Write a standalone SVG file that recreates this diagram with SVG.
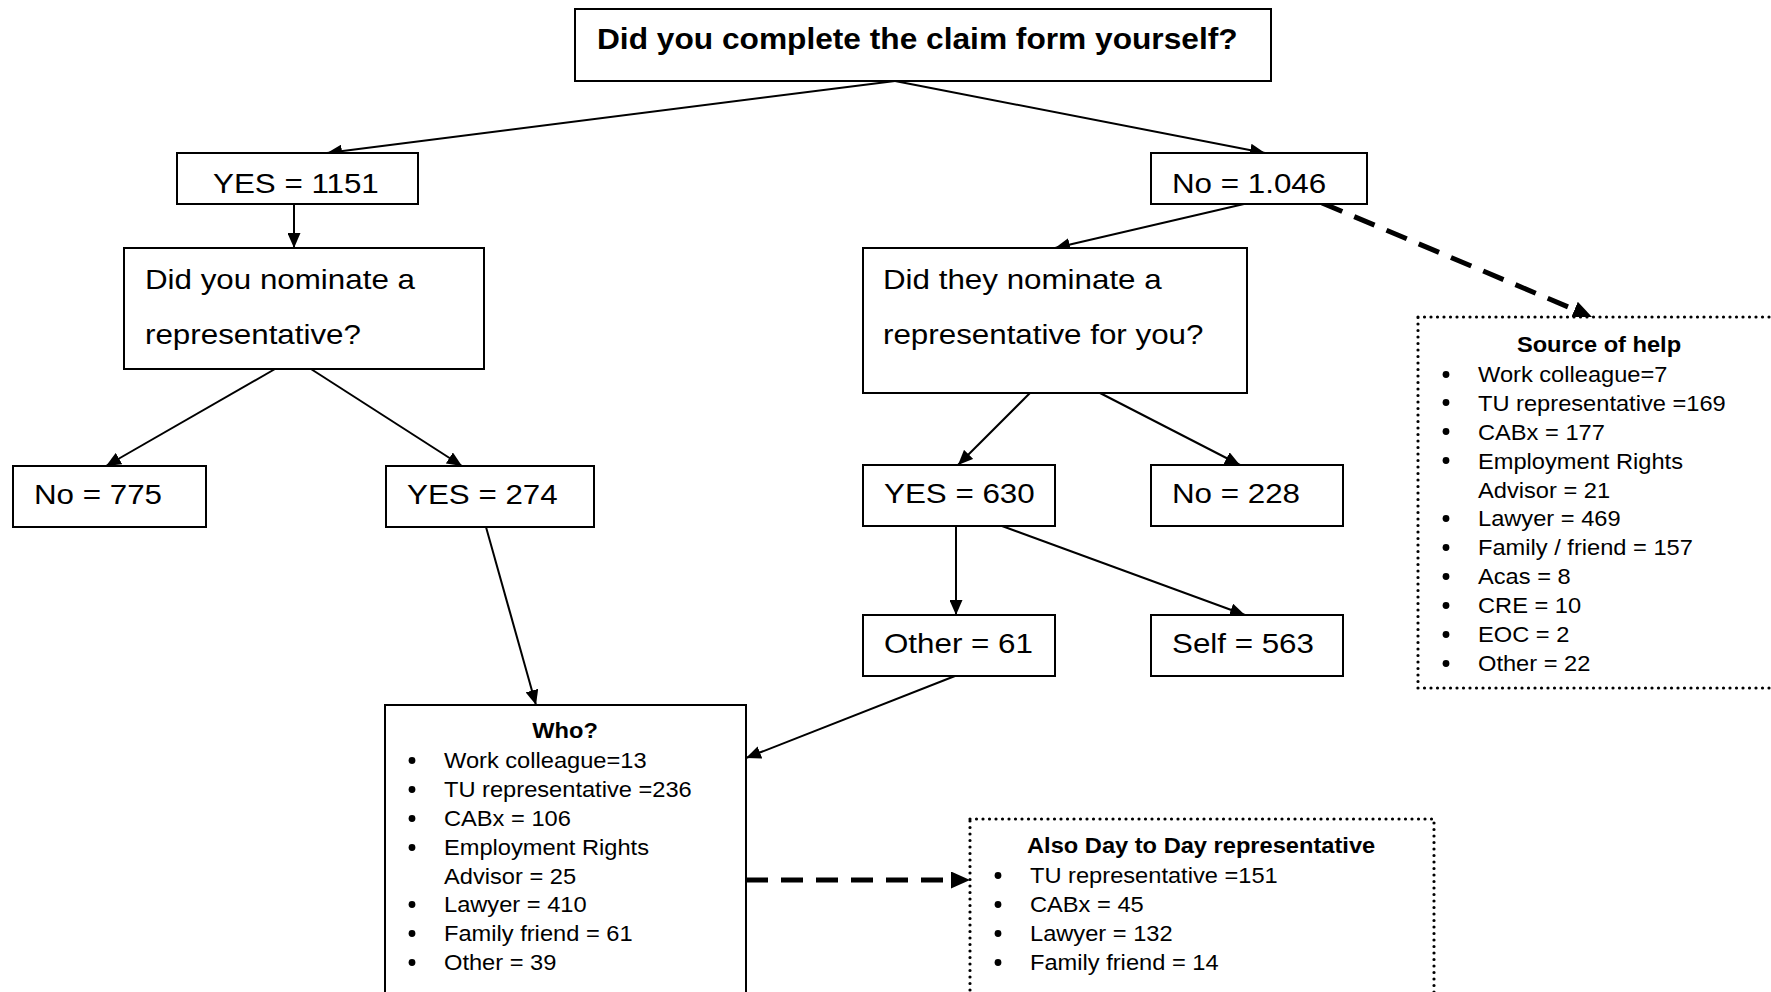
<svg xmlns="http://www.w3.org/2000/svg" width="1771" height="992" viewBox="0 0 1771 992">
<style>
.box{fill:#fff;stroke:#000;stroke-width:2}
.dot{fill:#fff;stroke:#000;stroke-width:3.2;stroke-dasharray:0 6.5;stroke-linecap:round}
.t{font-family:"Liberation Sans",Arial,sans-serif;fill:#000}
.lbl{font-size:28.5px}
.ttl{font-size:28.8px;font-weight:bold}
.li{font-size:21.5px}
.hd{font-size:21.5px;font-weight:bold}
.b{fill:#000}
.ln{stroke:#000;stroke-width:2;fill:none}
.dash{stroke:#000;stroke-width:5;stroke-dasharray:22 13;fill:none}
</style>
<defs>
<marker id="arr" markerWidth="15" markerHeight="13" refX="15" refY="6.5" orient="auto" markerUnits="userSpaceOnUse"><path d="M0,0 L15,6.5 L0,13 z" fill="#000"/></marker>
<marker id="darr" markerWidth="19" markerHeight="17" refX="0" refY="8.5" orient="auto" markerUnits="userSpaceOnUse"><path d="M0,0 L19,8.5 L0,17 z" fill="#000"/></marker>
</defs>
<rect width="1771" height="992" fill="#fff"/>

<g id="connectors">
<line class="ln" x1="895" y1="81" x2="327" y2="153" marker-end="url(#arr)"/>
<line class="ln" x1="895" y1="81" x2="1265" y2="153" marker-end="url(#arr)"/>
<line class="ln" x1="294" y1="204" x2="294" y2="248" marker-end="url(#arr)"/>
<line class="ln" x1="1244" y1="204" x2="1055" y2="248" marker-end="url(#arr)"/>
<line class="dash" x1="1322" y1="203" x2="1574.5" y2="309.6" marker-end="url(#darr)"/>
<line class="ln" x1="275" y1="369" x2="106" y2="466" marker-end="url(#arr)"/>
<line class="ln" x1="311" y1="369" x2="462" y2="466" marker-end="url(#arr)"/>
<line class="ln" x1="1030" y1="393" x2="958" y2="465" marker-end="url(#arr)"/>
<line class="ln" x1="1100" y1="393" x2="1240" y2="465" marker-end="url(#arr)"/>
<line class="ln" x1="486" y1="527" x2="536" y2="705" marker-end="url(#arr)"/>
<line class="ln" x1="956" y1="526" x2="956" y2="615" marker-end="url(#arr)"/>
<line class="ln" x1="1002" y1="526" x2="1245" y2="615" marker-end="url(#arr)"/>
<line class="ln" x1="955" y1="676" x2="746" y2="758" marker-end="url(#arr)"/>
<line class="dash" x1="746" y1="880" x2="951" y2="880" marker-end="url(#darr)"/>
</g>

<g id="q-claim">
<rect class="box" x="575" y="9" width="696" height="72"/>
<text class="t ttl" transform="translate(597,49) scale(1.1,1)">Did you complete the claim form yourself?</text>
</g>

<g id="yes-1151">
<rect class="box" x="177" y="153" width="241" height="51"/>
<text class="t lbl" transform="translate(213,193) scale(1.1,1)">YES = 1151</text>
</g>

<g id="no-1046">
<rect class="box" x="1151" y="153" width="216" height="51"/>
<text class="t lbl" transform="translate(1172,193) scale(1.1,1)">No = 1.046</text>
</g>

<g id="q-you-nominate">
<rect class="box" x="124" y="248" width="360" height="121"/>
<text class="t lbl" transform="translate(145,289) scale(1.1,1)">Did you nominate a<tspan x="0" dy="55">representative?</tspan></text>
</g>

<g id="q-they-nominate">
<rect class="box" x="863" y="248" width="384" height="145"/>
<text class="t lbl" transform="translate(883,289) scale(1.1,1)">Did they nominate a<tspan x="0" dy="55">representative for you?</tspan></text>
</g>

<g id="no-775">
<rect class="box" x="13" y="466" width="193" height="61"/>
<text class="t lbl" transform="translate(34,504) scale(1.1,1)">No = 775</text>
</g>

<g id="yes-274">
<rect class="box" x="386" y="466" width="208" height="61"/>
<text class="t lbl" transform="translate(407,504) scale(1.1,1)">YES = 274</text>
</g>

<g id="yes-630">
<rect class="box" x="863" y="465" width="192" height="61"/>
<text class="t lbl" transform="translate(884,503) scale(1.1,1)">YES = 630</text>
</g>

<g id="no-228">
<rect class="box" x="1151" y="465" width="192" height="61"/>
<text class="t lbl" transform="translate(1172,503) scale(1.1,1)">No = 228</text>
</g>

<g id="other-61">
<rect class="box" x="863" y="615" width="192" height="61"/>
<text class="t lbl" transform="translate(884,653) scale(1.1,1)">Other = 61</text>
</g>

<g id="self-563">
<rect class="box" x="1151" y="615" width="192" height="61"/>
<text class="t lbl" transform="translate(1172,653) scale(1.1,1)">Self = 563</text>
</g>

<g id="source-of-help">
<rect class="dot" x="1418" y="317" width="380" height="371"/>
<text class="t hd" text-anchor="middle" transform="translate(1599,352) scale(1.1,1)">Source of help</text>
<g class="b">
<circle cx="1446" cy="374.5" r="3.4"/><circle cx="1446" cy="402.5" r="3.4"/><circle cx="1446" cy="431.5" r="3.4"/><circle cx="1446" cy="460.5" r="3.4"/><circle cx="1446" cy="518.5" r="3.4"/><circle cx="1446" cy="547.5" r="3.4"/><circle cx="1446" cy="576.5" r="3.4"/><circle cx="1446" cy="605.5" r="3.4"/><circle cx="1446" cy="634.5" r="3.4"/><circle cx="1446" cy="663.5" r="3.4"/>
</g>
<text class="t li" transform="translate(1478,382) scale(1.1,1)">Work colleague=7<tspan x="0" dy="28.9">TU representative =169</tspan><tspan x="0" dy="28.9">CABx = 177</tspan><tspan x="0" dy="28.9">Employment Rights</tspan><tspan x="0" dy="28.9">Advisor = 21</tspan><tspan x="0" dy="28.9">Lawyer = 469</tspan><tspan x="0" dy="28.9">Family / friend = 157</tspan><tspan x="0" dy="28.9">Acas = 8</tspan><tspan x="0" dy="28.9">CRE = 10</tspan><tspan x="0" dy="28.9">EOC = 2</tspan><tspan x="0" dy="28.9">Other = 22</tspan></text>
</g>

<g id="who">
<rect class="box" x="385" y="705" width="361" height="300"/>
<text class="t hd" text-anchor="middle" transform="translate(565,738) scale(1.1,1)">Who?</text>
<g class="b">
<circle cx="412" cy="760.5" r="3.4"/><circle cx="412" cy="789.5" r="3.4"/><circle cx="412" cy="818.5" r="3.4"/><circle cx="412" cy="847.5" r="3.4"/><circle cx="412" cy="904.5" r="3.4"/><circle cx="412" cy="933.5" r="3.4"/><circle cx="412" cy="962.5" r="3.4"/>
</g>
<text class="t li" transform="translate(444,768) scale(1.1,1)">Work colleague=13<tspan x="0" dy="28.9">TU representative =236</tspan><tspan x="0" dy="28.9">CABx = 106</tspan><tspan x="0" dy="28.9">Employment Rights</tspan><tspan x="0" dy="28.9">Advisor = 25</tspan><tspan x="0" dy="28.9">Lawyer = 410</tspan><tspan x="0" dy="28.9">Family friend = 61</tspan><tspan x="0" dy="28.9">Other = 39</tspan></text>
</g>

<g id="also-day-to-day">
<rect class="dot" x="970" y="819" width="464" height="200"/>
<text class="t hd" transform="translate(1027,853) scale(1.1,1)">Also Day to Day representative</text>
<g class="b">
<circle cx="998" cy="875.5" r="3.4"/><circle cx="998" cy="904.5" r="3.4"/><circle cx="998" cy="933.5" r="3.4"/><circle cx="998" cy="962.5" r="3.4"/>
</g>
<text class="t li" transform="translate(1030,883) scale(1.1,1)">TU representative =151<tspan x="0" dy="29">CABx = 45</tspan><tspan x="0" dy="29">Lawyer = 132</tspan><tspan x="0" dy="29">Family friend = 14</tspan></text>
</g>
</svg>
